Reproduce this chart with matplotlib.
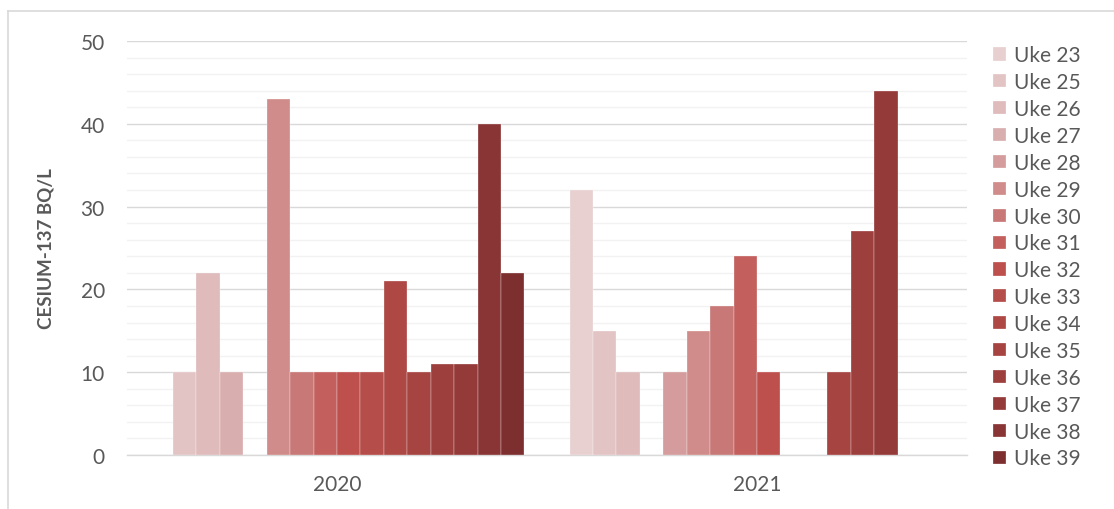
import numpy as np
import matplotlib
matplotlib.use("Agg")
import matplotlib.pyplot as plt
from matplotlib.lines import Line2D
from matplotlib.ticker import MultipleLocator

categories = ["2020", "2021"]
series = ["Uke 23", "Uke 25", "Uke 26", "Uke 27", "Uke 28", "Uke 29", "Uke 30", "Uke 31",
          "Uke 32", "Uke 33", "Uke 34", "Uke 35", "Uke 36", "Uke 37", "Uke 38", "Uke 39"]
nan = np.nan
values_2020 = [nan, 10, 22, 10, nan, 43, 10, 10, 10, 10, 21, 10, 11, 11, 40, 22]
values_2021 = [32, 15, 10, nan, 10, 15, 18, 24, 10, nan, nan, 10, 27, 44, nan, nan]
colors = ["#e8d0d1", "#e2c4c4", "#dfbbbb", "#d9aeae", "#d49c9c", "#cf8c8a", "#c87876", "#c3605e",
          "#bd504d", "#b54d4a", "#ae4845", "#a64442", "#9d3f3d", "#943b3a", "#8a3535", "#7d2f2f"]

plt.rcParams['font.family'] = ['Lato', 'DejaVu Sans']
gray = "#595959"

fig = plt.figure(figsize=(11.14, 5.10), dpi=100)
ax = fig.add_axes([127/1114, 1-456/510, (967-127)/1114, (456-42)/510])

n = len(series)
w = 23.4 / 419.5
x = np.arange(len(categories))
handles = []
for i, (name, c) in enumerate(zip(series, colors)):
    vals = [values_2020[i], values_2021[i]]
    b = ax.bar(x + (i - (n - 1) / 2) * w, vals, width=w, color=c, edgecolor="#ffffff",
               linewidth=0.2, label=name, zorder=3)
    handles.append(b)

ax.set_xlim(-0.5, 1.5)
ax.set_ylim(0, 50)
ax.yaxis.set_major_locator(MultipleLocator(10))
ax.yaxis.set_minor_locator(MultipleLocator(2))
ax.grid(axis="y", which="minor", color="#f2f2f2", linewidth=1.0, zorder=0)
ax.grid(axis="y", which="major", color="#d9d9d9", linewidth=1.0, zorder=1)
ax.set_axisbelow(True)
for s in ["top", "right", "left"]:
    ax.spines[s].set_visible(False)
ax.spines["bottom"].set_color("#d9d9d9")
ax.spines["bottom"].set_linewidth(1.0)
ax.set_xticks(x)
ax.set_xticklabels(categories)
ax.tick_params(axis="both", which="both", length=0, labelsize=15, labelcolor=gray)
ax.tick_params(axis="y", pad=16)
ax.tick_params(axis="x", pad=14)
ax.set_ylabel("CESIUM-137 BQ/L", fontsize=13.5, color=gray, fontweight="bold", labelpad=19)

leg = fig.legend(handles=handles, labels=series, loc="upper left",
                 bbox_to_anchor=(985/1114, 1-38/510), frameon=False, fontsize=15,
                 labelcolor=gray, handlelength=0.6, handleheight=0.6, handletextpad=0.4,
                 labelspacing=0.33, borderaxespad=0)

fig.add_artist(Line2D([7.5/1114, 7.5/1114], [0, 1-11.5/510], transform=fig.transFigure,
                      color="#d9d9d9", linewidth=1.2))
fig.add_artist(Line2D([7.5/1114, 1], [1-11.5/510, 1-11.5/510], transform=fig.transFigure,
                      color="#d9d9d9", linewidth=1.2))

fig.savefig("out.png", dpi=100, facecolor="white")
